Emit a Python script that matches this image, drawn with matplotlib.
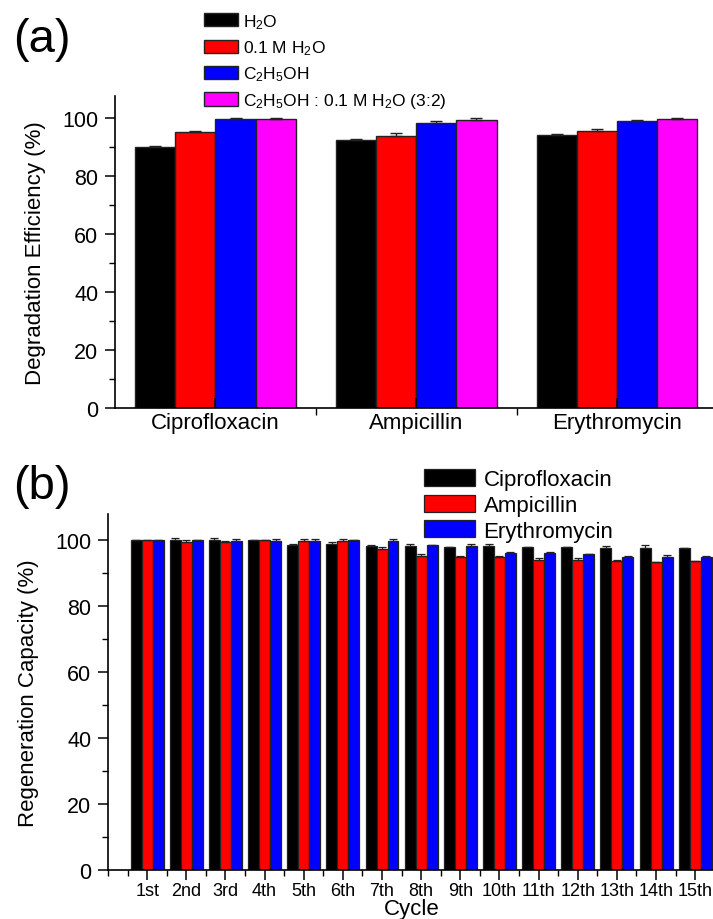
import numpy as np
import matplotlib
matplotlib.use("Agg")
import matplotlib.pyplot as plt
from matplotlib.ticker import MultipleLocator, FixedLocator

plt.rcParams['font.family'] = ['Liberation Sans', 'DejaVu Sans']
plt.rcParams['mathtext.fontset'] = 'custom'
plt.rcParams['mathtext.rm'] = 'Liberation Sans'
plt.rcParams['mathtext.default'] = 'regular'

# ---- panel (a) data ----
drugs = ['Ciprofloxacin', 'Ampicillin', 'Erythromycin']
solvents = ['H$_2$O', '0.1 M H$_2$O', 'C$_2$H$_5$OH', 'C$_2$H$_5$OH : 0.1 M H$_2$O (3:2)']
solvent_colors = ['#000000', '#ff0000', '#0000ff', '#ff00ff']
deg_h2o = [89.9, 92.5, 94.1]
deg_h2o_err = [0.3, 0.3, 0.3]
deg_01m = [95.2, 93.9, 95.4]
deg_01m_err = [0.3, 0.9, 0.7]
deg_etoh = [99.7, 98.2, 99.0]
deg_etoh_err = [0.2, 0.7, 0.3]
deg_mix = [99.7, 99.3, 99.7]
deg_mix_err = [0.3, 0.6, 0.4]

# ---- panel (b) data ----
cycles = ['1st', '2nd', '3rd', '4th', '5th', '6th', '7th', '8th', '9th', '10th',
          '11th', '12th', '13th', '14th', '15th']
cipro = [100.0, 100.2, 100.1, 100.0, 98.7, 98.9, 98.4, 98.2, 98.0, 98.2, 97.9, 97.9, 97.8, 97.8, 97.6]
cipro_err = [0.0, 0.6, 0.6, 0.2, 0.1, 0.6, 0.2, 0.6, 0.1, 0.6, 0.1, 0.2, 0.6, 0.8, 0.1]
ampi = [100.0, 99.6, 99.6, 100.0, 99.7, 99.7, 97.3, 95.2, 95.0, 94.8, 94.1, 94.0, 93.6, 93.3, 93.6]
ampi_err = [0.0, 0.5, 0.2, 0.1, 0.6, 0.6, 0.7, 0.6, 0.1, 0.5, 0.6, 0.5, 0.5, 0.1, 0.1]
ery = [100.0, 100.0, 99.8, 99.7, 99.7, 100.0, 99.7, 98.5, 98.2, 96.2, 96.0, 95.8, 95.0, 95.0, 95.0]
ery_err = [0.0, 0.2, 0.7, 0.6, 0.6, 0.2, 0.7, 0.2, 0.6, 0.2, 0.6, 0.1, 0.2, 0.6, 0.1]
antibiotic_colors = ['#000000', '#ff0000', '#0000ff']

fig = plt.figure(figsize=(7.13, 9.2), dpi=100)


def style_axis(ax):
    ax.spines['top'].set_visible(False)
    ax.spines['right'].set_visible(False)
    for s in ['left', 'bottom']:
        ax.spines[s].set_linewidth(1.2)
    ax.yaxis.set_major_locator(MultipleLocator(20))
    ax.yaxis.set_minor_locator(MultipleLocator(10))
    ax.tick_params(axis='y', which='major', length=7, width=1.1, labelsize=15.5, pad=5)
    ax.tick_params(axis='y', which='minor', length=4, width=1.0)


# (a) degradation efficiency
ax1 = fig.add_axes([0.1613, 0.5554, 0.845, 0.339])
x = np.arange(len(drugs))
w = 0.2
series_a = [(deg_h2o, deg_h2o_err), (deg_01m, deg_01m_err), (deg_etoh, deg_etoh_err), (deg_mix, deg_mix_err)]
for i, (vals, errs) in enumerate(series_a):
    ax1.bar(x + (i - 1.5) * w, vals, w, color=solvent_colors[i], edgecolor='#222222', linewidth=1.0,
            yerr=[np.zeros(len(errs)), errs], capsize=4, error_kw=dict(elinewidth=1, capthick=1, ecolor='#222222'),
            label=solvents[i])
ax1.set_xlim(-0.5, 2.5)
ax1.set_ylim(0, 107.5)
style_axis(ax1)
ax1.set_xticks(x)
ax1.set_xticklabels(drugs)
ax1.xaxis.set_minor_locator(FixedLocator([0.5, 1.5]))
ax1.tick_params(axis='x', which='major', direction='in', length=7, width=1.1, labelsize=16, pad=3)
ax1.tick_params(axis='x', which='minor', direction='out', length=5, width=1.0)
ax1.set_ylabel('Degradation Efficiency (%)', fontsize=16, labelpad=12)
ax1.legend(loc='upper left', bbox_to_anchor=(0.286, 0.986), bbox_transform=fig.transFigure,
           frameon=False, fontsize=12.5, handlelength=1.95, handleheight=0.8, labelspacing=0.44,
           handletextpad=0.3, borderpad=0, borderaxespad=0)
fig.text(0.018, 0.956, '(a)', fontsize=34, va='center')

# (b) regeneration capacity
ax2 = fig.add_axes([0.1515, 0.0533, 0.851, 0.387])
xc = np.arange(1, len(cycles) + 1)
wb = 0.28
series_b = [('Ciprofloxacin', cipro, cipro_err), ('Ampicillin', ampi, ampi_err), ('Erythromycin', ery, ery_err)]
for i, (name, vals, errs) in enumerate(series_b):
    ax2.bar(xc + (i - 1) * wb, vals, wb, color=antibiotic_colors[i], edgecolor='#222222', linewidth=0.9,
            yerr=[np.zeros(len(errs)), errs], capsize=3, error_kw=dict(elinewidth=0.9, capthick=0.9, ecolor='#222222'),
            label=name)
ax2.set_xlim(0, 15.5)
ax2.set_ylim(0, 108)
style_axis(ax2)
ax2.set_xticks(xc)
ax2.set_xticklabels(cycles)
ax2.xaxis.set_minor_locator(FixedLocator(np.arange(0, 15.6, 0.5)))
ax2.tick_params(axis='x', which='major', direction='out', length=7, width=1.1, labelsize=13, pad=2)
ax2.tick_params(axis='x', which='minor', direction='out', length=4, width=1.0)
ax2.set_ylabel('Regeneration Capacity (%)', fontsize=16, labelpad=12)
ax2.set_xlabel('Cycle', fontsize=16, labelpad=-1)
ax2.legend(loc='upper left', bbox_to_anchor=(0.594, 0.489), bbox_transform=fig.transFigure,
           frameon=False, fontsize=16, handlelength=2.3, handleheight=0.8, labelspacing=0.2,
           handletextpad=0.4, borderpad=0, borderaxespad=0)
fig.text(0.018, 0.471, '(b)', fontsize=34, va='center')

fig.savefig('out.png', dpi=100)
